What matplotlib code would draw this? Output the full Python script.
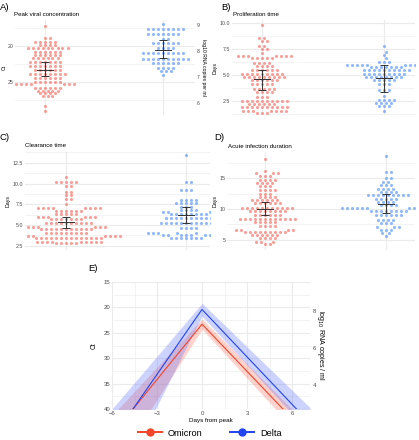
import numpy as np
import matplotlib.pyplot as plt
from matplotlib.lines import Line2D

plt.rcParams['font.family'] = ['Liberation Sans', 'DejaVu Sans']

# A) Peak viral concentration: Ct value of each row of dots and dots per row
a_omi_val = [17.3, 18.9, 19.4, 19.9, 20.3, 20.8, 21.3, 21.7, 22.2, 22.8, 23.3,
             23.9, 24.5, 25.0, 25.3, 25.8, 26.2, 26.6, 27.0, 28.4, 29.1]
a_omi_n = [1, 2, 5, 4, 9, 6, 6, 6, 7, 7, 6, 8, 6, 6, 7, 6, 5, 4, 3, 1, 1]
a_del_val = [17.0, 17.6, 18.4, 19.1, 19.6, 20.3, 21.0, 21.8, 22.4, 23.1, 23.5, 24.0]
a_del_n = [1, 8, 7, 2, 6, 4, 9, 10, 6, 4, 3, 1]

# B) Proliferation time (days)
b_omi_val = [9.8, 8.6, 8.3, 7.8, 7.5, 7.1, 6.8, 6.6, 6.2, 5.9, 5.5, 5.1, 4.8,
             4.5, 4.1, 3.7, 3.4, 2.9, 2.5, 2.2, 1.9, 1.5, 1.3]
b_omi_n = [1, 2, 2, 2, 2, 1, 7, 5, 4, 4, 6, 9, 9, 6, 5, 5, 4, 3, 10, 6, 10, 7, 3]
b_del_val = [7.8, 7.2, 6.9, 6.6, 6.3, 6.0, 5.8, 5.5, 5.1, 4.8, 4.5, 4.1, 3.6,
             3.0, 2.6, 2.3, 2.0, 1.5]
b_del_n = [1, 1, 1, 1, 3, 9, 7, 10, 9, 8, 5, 3, 3, 1, 4, 4, 3, 1]

# C) Clearance time (days)
c_omi_val = [10.8, 10.2, 9.7, 9.0, 8.6, 8.1, 7.5, 7.0, 6.7, 6.3, 6.0, 5.7, 5.2,
             4.8, 4.5, 4.0, 3.7, 3.4, 3.0, 2.8]
c_omi_n = [1, 5, 2, 2, 2, 2, 1, 8, 6, 5, 6, 7, 10, 6, 11, 9, 9, 14, 9, 5]
c_del_val = [13.4, 10.2, 9.2, 8.0, 7.6, 7.2, 6.8, 6.6, 6.3, 5.8, 5.2, 4.6, 4.0,
             3.8, 3.5, 3.4]
c_del_n = [1, 2, 3, 4, 5, 3, 4, 4, 8, 10, 11, 4, 8, 8, 4, 3]

# D) Acute infection duration (days)
d_omi_val = [18.1, 16.2, 15.8, 15.4, 14.8, 14.3, 13.8, 13.1, 12.5, 11.9, 11.4,
             10.9, 10.1, 9.6, 9.0, 8.4, 7.8, 7.2, 6.6, 6.2, 5.7, 5.2, 4.6, 4.2]
d_omi_n = [1, 1, 3, 3, 4, 4, 3, 4, 3, 4, 6, 6, 11, 8, 6, 12, 5, 4, 4, 9, 6, 4, 3, 2]
d_del_val = [18.6, 16.0, 15.0, 14.4, 13.9, 13.3, 12.8, 12.2, 11.7, 11.1, 10.6,
             10.1, 9.7, 9.0, 8.2, 7.7, 7.0, 6.6, 6.0, 5.6]
d_del_n = [1, 2, 2, 2, 3, 4, 4, 9, 5, 4, 4, 11, 8, 6, 4, 3, 3, 3, 2, 1]

# mean and interval bars (Omicron, Delta)
a_mean, a_lo, a_hi = [23.3, 20.5], [22.3, 19.2], [24.2, 21.7]
b_mean, b_lo, b_hi = [4.6, 4.7], [3.6, 3.4], [5.5, 6.0]
c_mean, c_lo, c_hi = [5.4, 6.2], [4.7, 5.3], [6.0, 7.2]
d_mean, d_lo, d_hi = [10.0, 10.8], [9.0, 9.4], [11.1, 12.5]

# E) trajectories (Omicron, Delta): peak Ct and days where Ct reaches 40
e_peak = [23.3, 20.4]
e_peak_lo = [22.3, 19.2]
e_peak_hi = [24.3, 21.7]
e_end_left = [-4.6, -4.6]
e_end_right = [5.4, 6.3]
e_band_left_out = [-5.6, -6.0]
e_band_left_in = [-3.4, -3.1]
e_band_right_in = [4.9, 5.7]
e_band_right_out = [6.0, 7.3]
e_limit = 40

# Ct <-> log10 copies
CT_AT_8 = 20.7
CT_PER_LOG = 3.62

W, H = 419, 440
C_OMI, C_DEL = '#F8766D', '#619CFF'
L_OMI, L_DEL = '#F5442A', '#2244F2'
GRID = '#EBEBEB'
TXT = '#4D4D4D'
GAP_X, GAP_Y = 5.0, 3.3   # px, dot spacing used by the swarm


def ct2log(ct):
    return 8 - (np.asarray(ct) - CT_AT_8) / CT_PER_LOG


def log2ct(lg):
    return CT_AT_8 + (8 - np.asarray(lg)) * CT_PER_LOG


def box(l, t, r, b):
    return [l / W, 1 - b / H, (r - l) / W, (b - t) / H]


def style(ax, fs):
    for s in ax.spines.values():
        s.set_visible(False)
    ax.tick_params(length=0, labelsize=fs, labelcolor=TXT, pad=1.2)
    ax.grid(which='major', color=GRID, lw=0.8)
    ax.grid(which='minor', color=GRID, lw=0.4)
    ax.set_axisbelow(True)


def swarm(vals, sx, sy):
    # greedy beeswarm in pixels, elliptic spacing, returns x offsets in data units
    vals = np.asarray(vals, float)
    offs = np.zeros(len(vals))
    placed = []
    for i in np.argsort(vals, kind='stable'):
        y = vals[i] * sy
        near = [(px, py) for px, py in placed if abs(py - y) < GAP_Y]
        k = 0
        found = None
        while found is None:
            cands = [0.0] if k == 0 else [k * 0.25, -k * 0.25]
            for c in cands:
                if all(((c - px) / GAP_X) ** 2 + ((y - py) / GAP_Y) ** 2 >= 1
                       for px, py in near):
                    found = c
                    break
            k += 1
        placed.append((found, y))
        offs[i] = found / sx
    return offs


def swarm_panel(rect, groups, means, los, his, xlim, ylim, yticks, minor,
                ylabel, invert=False, labelpad=1.5):
    ax = fig.add_axes(box(*rect))
    style(ax, 3.8)
    ax.set_xlim(*xlim)
    ax.set_ylim(*(ylim[::-1] if invert else ylim))
    sx = (rect[2] - rect[0]) / (xlim[1] - xlim[0])
    sy = (rect[3] - rect[1]) / (ylim[1] - ylim[0])
    for g, ((v, n), col) in enumerate(zip(groups, [C_OMI, C_DEL])):
        ys = np.repeat(v, n)
        xs = g + 1 + swarm(ys, sx, sy)
        ax.scatter(xs, ys, s=5, color=col, alpha=0.7, lw=0, zorder=2)
    xm = np.array([1, 2])
    ax.errorbar(xm, means, yerr=[np.subtract(means, los), np.subtract(his, means)],
                fmt='none', ecolor='#333333', elinewidth=0.7, capsize=2.6,
                capthick=0.7, zorder=3)
    for x, m in zip(xm, means):
        ax.plot([x - 0.065, x + 0.065], [m, m], color='#333333', lw=0.7, zorder=3)
    ax.set_xticks(xm)
    ax.set_xticklabels([])
    ax.set_yticks(yticks)
    ax.set_yticks(minor, minor=True)
    ax.tick_params(which='minor', length=0)
    ax.set_ylabel(ylabel, fontsize=3.8, labelpad=labelpad)
    return ax


fig = plt.figure(figsize=(W / 100, H / 100), dpi=100, facecolor='white')

# panel A
axA = swarm_panel((15, 20, 195, 115), [(a_omi_val, a_omi_n), (a_del_val, a_del_n)],
                  a_mean, a_lo, a_hi, (0.746, 2.27), (16.4, 29.6), [20, 25],
                  [17.5, 22.5, 27.5], 'Ct', invert=True, labelpad=0.8)
axA.set_yticklabels(['20', '25'])
secA = axA.secondary_yaxis('right', functions=(ct2log, log2ct))
secA.set_yticks([6, 7, 8, 9])
secA.tick_params(length=0, labelsize=3.8, labelcolor=TXT, pad=1.5)
for s in secA.spines.values():
    s.set_visible(False)
secA.set_ylabel('log10 RNA copies per ml', rotation=270, fontsize=3.7, labelpad=4)

# panel B
swarm_panel((232, 20, 415, 115), [(b_omi_val, b_omi_n), (b_del_val, b_del_n)],
            b_mean, b_lo, b_hi, (0.754, 2.25), (1.15, 10.3),
            [2.5, 5.0, 7.5, 10.0], [1.25, 3.75, 6.25, 8.75], 'Days')

# panel C
swarm_panel((25, 152, 210, 250), [(c_omi_val, c_omi_n), (c_del_val, c_del_n)],
            c_mean, c_lo, c_hi, (0.658, 2.2), (2.0, 13.8),
            [2.5, 5.0, 7.5, 10.0, 12.5], [3.75, 6.25, 8.75, 11.25, 13.75], 'Days')

# panel D
swarm_panel((227, 152, 415, 250), [(d_omi_val, d_omi_n), (d_del_val, d_del_n)],
            d_mean, d_lo, d_hi, (0.686, 2.24), (3.3, 19.3),
            [5, 10, 15], [7.5, 12.5, 17.5], 'Days')

# panel E
axE = fig.add_axes(box(112, 282, 310, 409))
style(axE, 4.3)
axE.set_xlim(-6, 7.2)
axE.set_ylim(e_limit, 15)
xs = np.linspace(-6, 7.2, 400)
for i, cf in enumerate(['#FF6A55', '#5A6EFF']):
    rise = e_limit - e_peak_lo[i]
    fall = e_limit - e_peak_hi[i]
    upper = np.where(xs < 0, e_peak_lo[i] + rise * xs / e_band_left_out[i],
                     e_peak_lo[i] + rise * xs / e_band_right_out[i])
    lower = np.where(xs < 0, e_peak_hi[i] + fall * xs / e_band_left_in[i],
                     e_peak_hi[i] + fall * xs / e_band_right_in[i])
    axE.fill_between(xs, upper, lower, color=cf, alpha=0.3, lw=0, zorder=2)
for i, cl in enumerate([L_OMI, L_DEL]):
    axE.plot([e_end_left[i], 0, e_end_right[i]], [e_limit, e_peak[i], e_limit],
             color=cl, lw=0.8, zorder=3)
axE.set_xticks([-6, -3, 0, 3, 6])
axE.set_xticks([-4.5, -1.5, 1.5, 4.5], minor=True)
axE.set_yticks([15, 20, 25, 30, 35, 40])
axE.set_yticks([17.5, 22.5, 27.5, 32.5, 37.5], minor=True)
axE.tick_params(which='minor', length=0)
axE.set_xlabel('Days from peak', fontsize=4.5, labelpad=2)
axE.set_ylabel('Ct', fontsize=4.8, labelpad=4)
secE = axE.secondary_yaxis('right', functions=(ct2log, log2ct))
secE.set_yticks([4, 6, 8])
secE.tick_params(length=0, labelsize=4.3, labelcolor=TXT, pad=2)
for s in secE.spines.values():
    s.set_visible(False)
secE.set_ylabel(r'log$_{10}$ RNA copies / ml', rotation=270, fontsize=5.1, labelpad=7)

# panel letters and titles
for lab, x, y in [('A)', 0, 7), ('B)', 221, 7), ('C)', 0, 137), ('D)', 214, 137), ('E)', 88, 268)]:
    fig.text(x / W, 1 - y / H, lab, fontsize=6.8, va='center', ha='left')
for t, x, y in [('Peak viral concentration', 14, 15), ('Proliferation time', 233, 15),
                ('Clearance time', 25, 145), ('Acute infection duration', 228, 147)]:
    fig.text(x / W, 1 - y / H, t, fontsize=4.4, va='center', ha='left')

handles = [Line2D([], [], color=L_OMI, lw=1.4, marker='o', ms=5),
           Line2D([], [], color=L_DEL, lw=1.4, marker='o', ms=5)]
fig.legend(handles, ['Omicron', 'Delta'], loc='center', bbox_to_anchor=(0.5, 1 - 433 / H),
           ncol=2, frameon=False, fontsize=6.7, handlelength=2.6, columnspacing=3,
           handletextpad=0.6)

fig.savefig('out.png', dpi=100, facecolor='white')
